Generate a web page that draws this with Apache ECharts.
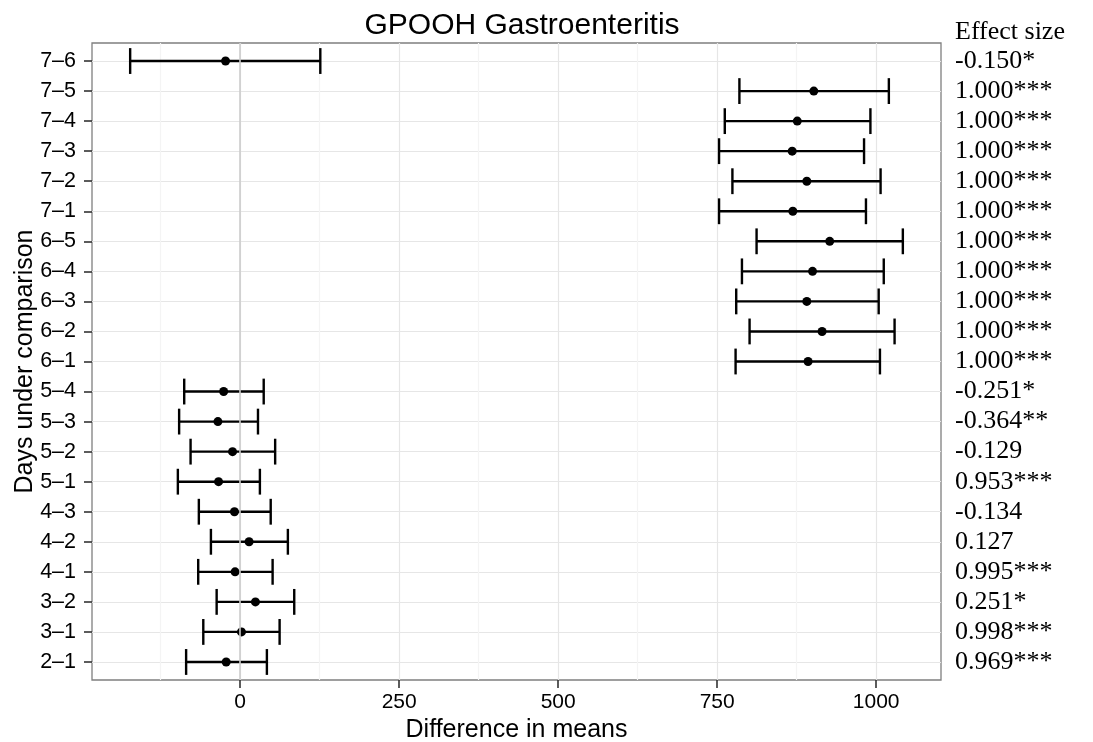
<!DOCTYPE html>
<html>
<head>
<meta charset="utf-8">
<script src="https://cdn.jsdelivr.net/npm/echarts@6/dist/echarts.min.js"></script>
<style>
html,body{margin:0;padding:0;background:#fff;}
#chart{width:1093px;height:742px;}
</style>
</head>
<body>
<div id="chart"></div>
<script>
// Data, listed top to bottom as in the chart
const comparisons = ['7–6','7–5','7–4','7–3','7–2','7–1','6–5','6–4','6–3','6–2','6–1','5–4','5–3','5–2','5–1','4–3','4–2','4–1','3–2','3–1','2–1'];
const meanDiff = [-23, 902, 876, 868, 891, 869, 927, 900, 891, 915, 893, -26, -35, -12, -34, -9, 14, -8, 24, 2, -22];
const lowerCI  = [-173, 785, 762, 753, 774, 753, 812, 789, 780, 801, 779, -88, -96, -78, -98, -65, -46, -66, -37, -58, -85];
const upperCI  = [126, 1020, 991, 981, 1007, 984, 1042, 1012, 1004, 1029, 1006, 37, 28, 55, 31, 48, 75, 51, 85, 62, 42];
const effectSizes = ['-0.150*','1.000***','1.000***','1.000***','1.000***','1.000***','1.000***','1.000***','1.000***','1.000***','1.000***','-0.251*','-0.364**','-0.129','0.953***','-0.134','0.127','0.995***','0.251*','0.998***','0.969***'];
const xMajorTicks = [0, 250, 500, 750, 1000];
const xMinorTicks = [-125, 125, 375, 625, 875];

const n = comparisons.length;
const yPos = comparisons.map((c, i) => n - 1 - i);
const yTicks = yPos.slice().sort((a, b) => a - b);
const labelAt = v => { const i = n - 1 - Math.round(v); return comparisons[i] || ''; };
const effectAt = v => { const i = n - 1 - Math.round(v); return effectSizes[i] || ''; };

const barData = comparisons.map((c, i) => [lowerCI[i], upperCI[i], yPos[i]]);
const pointData = comparisons.map((c, i) => [meanDiff[i], yPos[i]]);

const SANS = 'Liberation Sans, Arial, sans-serif';
const SERIF = 'Liberation Serif, serif';
const xMin = -233, xMax = 1102;

const chart = echarts.init(document.getElementById('chart'), null, {renderer: 'canvas'});
chart.setOption({
  animation: false,
  backgroundColor: '#ffffff',
  title: {
    text: 'GPOOH Gastroenteritis',
    left: 517, top: 6, textAlign: 'center',
    textStyle: {fontFamily: SANS, fontSize: 30, fontWeight: 'normal', color: '#000'}
  },
  grid: {
    left: 92, right: 152, top: 43, bottom: 62,
    containLabel: false, outerBoundsMode: 'none',
    show: true, borderColor: '#7f7f7f', borderWidth: 1.3, backgroundColor: '#fff'
  },
  xAxis: [{
    type: 'value', min: xMin, max: xMax, position: 'bottom',
    axisLine: {show: false, onZero: false},
    axisTick: {show: true, customValues: xMajorTicks, length: 8, lineStyle: {color: '#333', width: 1.6}},
    axisLabel: {customValues: xMajorTicks, formatter: v => String(v), fontFamily: SANS, fontSize: 21, color: '#000', margin: 12},
    splitLine: {show: true, lineStyle: {color: '#e6e6e6', width: 1.2}},
    name: 'Difference in means', nameLocation: 'middle', nameGap: 38, nameMoveOverlap: false,
    nameTextStyle: {fontFamily: SANS, fontSize: 25, color: '#000'}
  }, {
    type: 'value', min: xMin, max: xMax, position: 'bottom',
    axisLine: {show: false, onZero: false},
    axisTick: {show: false, customValues: xMinorTicks},
    axisLabel: {show: false, customValues: xMinorTicks},
    splitLine: {show: true, lineStyle: {color: '#f4f4f4', width: 1.2}}
  }],
  yAxis: [{
    type: 'value', min: -0.6, max: n - 0.4, position: 'left',
    axisLine: {show: false, onZero: false},
    axisTick: {show: true, customValues: yTicks, length: 8, lineStyle: {color: '#333', width: 1.6}},
    axisLabel: {customValues: yTicks, formatter: labelAt, fontFamily: SANS, fontSize: 21.5, color: '#000', margin: 16},
    splitLine: {show: true, lineStyle: {color: '#e6e6e6', width: 1.2}},
    name: 'Days under comparison', nameLocation: 'middle', nameGap: 54, nameMoveOverlap: false,
    nameTextStyle: {fontFamily: SANS, fontSize: 25, color: '#000'}
  }, {
    type: 'value', min: -0.6, max: n - 0.4, position: 'right',
    axisLine: {show: false, onZero: false},
    axisTick: {show: false, customValues: yTicks},
    axisLabel: {customValues: yTicks, formatter: effectAt, fontFamily: SERIF, fontSize: 26, color: '#000', margin: 14},
    splitLine: {show: false},
    name: 'Effect size', nameLocation: 'end', nameGap: -2, nameMoveOverlap: false,
    nameTextStyle: {fontFamily: SERIF, fontSize: 26, color: '#000', align: 'left', padding: [0, 0, 0, 14]}
  }],
  series: [{
    type: 'line', data: [], z: 1, silent: true,
    markLine: {
      silent: true, symbol: ['none', 'none'], label: {show: false},
      lineStyle: {color: '#cccccc', width: 1.6, type: 'solid'},
      data: [{xAxis: 0}]
    }
  }, {
    type: 'custom', z: 3,
    encode: {x: [0, 1], y: 2},
    data: barData,
    renderItem: function (params, api) {
      const y = api.value(2);
      const p0 = api.coord([api.value(0), y]);
      const p1 = api.coord([api.value(1), y]);
      const h = api.size([0, 0.43])[1];
      const st = {stroke: '#000', lineWidth: 2.4, fill: null};
      return {type: 'group', children: [
        {type: 'line', shape: {x1: p0[0], y1: p0[1], x2: p1[0], y2: p1[1]}, style: st},
        {type: 'line', shape: {x1: p0[0], y1: p0[1] - h, x2: p0[0], y2: p0[1] + h}, style: st},
        {type: 'line', shape: {x1: p1[0], y1: p1[1] - h, x2: p1[0], y2: p1[1] + h}, style: st}
      ]};
    }
  }, {
    type: 'scatter', z: 4,
    data: pointData, symbol: 'circle', symbolSize: 9,
    itemStyle: {color: '#000', opacity: 1}
  }]
});
</script>
</body>
</html>
